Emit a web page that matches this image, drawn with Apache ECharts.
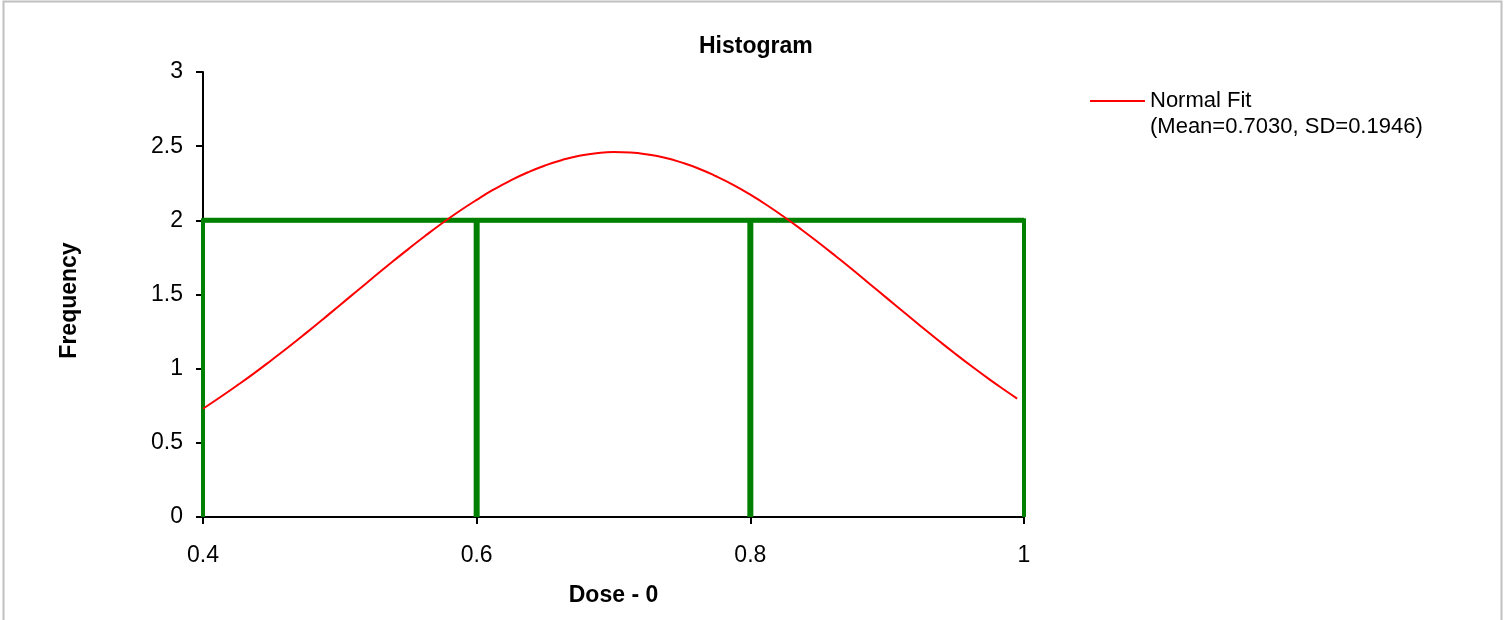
<!DOCTYPE html>
<html>
<head>
<meta charset="utf-8">
<script src="https://cdn.jsdelivr.net/npm/echarts@6/dist/echarts.min.js"></script>
<style>html,body{margin:0;padding:0;background:#fff;}#c{width:1506px;height:620px;}</style>
</head>
<body>
<div id="c"></div>
<script>
// Histogram bins
const binStarts = [0.4, 0.6, 0.8];
const binEnds = [0.6, 0.8, 1.0];
const binCounts = [2, 2, 2];

// Normal fit curve
const curveX = [0.4, 0.4125, 0.425, 0.4375, 0.45, 0.4625, 0.475, 0.4875, 0.5, 0.5125, 0.525, 0.5375, 0.55, 0.5625, 0.575, 0.5875, 0.6, 0.6125, 0.625, 0.6375, 0.65, 0.6625, 0.675, 0.6875, 0.7, 0.7125, 0.725, 0.7375, 0.75, 0.7625, 0.775, 0.7875, 0.8, 0.8125, 0.825, 0.8375, 0.85, 0.8625, 0.875, 0.8875, 0.9, 0.9125, 0.925, 0.9375, 0.95, 0.9625, 0.975, 0.985, 0.995];
const curveY = [0.73, 0.807, 0.887, 0.970, 1.057, 1.146, 1.238, 1.332, 1.428, 1.523, 1.619, 1.714, 1.806, 1.896, 1.982, 2.063, 2.138, 2.208, 2.270, 2.324, 2.370, 2.407, 2.435, 2.452, 2.460, 2.457, 2.444, 2.422, 2.389, 2.348, 2.297, 2.239, 2.173, 2.100, 2.021, 1.937, 1.849, 1.758, 1.665, 1.569, 1.474, 1.378, 1.283, 1.190, 1.099, 1.011, 0.926, 0.861, 0.798];

const xTicks = ['0.4', '0.6', '0.8', '1'];
const legendLine1 = 'Normal Fit';
const legendLine2 = '(Mean=0.7030, SD=0.1946)';

const FONT = 'Liberation Sans, Arial, sans-serif';
const GREEN = '#008000';

const barData = binStarts.map((s, i) => [s, binEnds[i], binCounts[i]]);
const curveData = curveX.map((x, i) => [x, curveY[i]]);

const chart = echarts.init(document.getElementById('c'), null, {renderer: 'canvas'});
chart.setOption({
  backgroundColor: '#fff',
  animation: false,
  title: {
    text: 'Histogram',
    left: 699,
    top: 35,
    padding: 0,
    textStyle: {fontFamily: FONT, fontSize: 23, fontWeight: 'bold', color: '#000'}
  },
  legend: {
    left: 1090,
    top: 90,
    padding: 0,
    icon: 'rect',
    itemWidth: 55,
    itemHeight: 2,
    itemGap: 5,
    data: [legendLine1],
    textStyle: {fontFamily: FONT, fontSize: 22, color: '#000'}
  },
  graphic: [
    {
      type: 'rect',
      silent: true,
      shape: {x: 3.5, y: 1.5, width: 1498, height: 700},
      style: {fill: 'none', stroke: '#c0c0c0', lineWidth: 2}
    },
    {
      type: 'text',
      left: 1150,
      top: 116,
      style: {text: legendLine2, fontFamily: FONT, fontSize: 22, fill: '#000'}
    }
  ],
  grid: {left: 203, right: 482, top: 72, bottom: 103, containLabel: false},
  xAxis: {
    type: 'value',
    min: 0.4,
    max: 1,
    interval: 0.2,
    name: 'Dose - 0',
    nameLocation: 'middle',
    nameGap: 67,
    nameTextStyle: {fontFamily: FONT, fontSize: 23, fontWeight: 'bold', color: '#000'},
    axisLine: {show: true, onZero: false, lineStyle: {color: '#000', width: 2}},
    axisTick: {show: true, length: 7, lineStyle: {color: '#000', width: 2}},
    axisLabel: {
      fontFamily: FONT, fontSize: 23, color: '#000', margin: 27,
      formatter: function (v) {
        const idx = Math.round((v - 0.4) / 0.2);
        return xTicks[idx] !== undefined ? xTicks[idx] : '';
      }
    },
    splitLine: {show: false}
  },
  yAxis: {
    type: 'value',
    min: 0,
    max: 3,
    interval: 0.5,
    name: 'Frequency',
    nameLocation: 'middle',
    nameGap: 122,
    nameRotate: 90,
    nameTextStyle: {fontFamily: FONT, fontSize: 23, fontWeight: 'bold', color: '#000', padding: [0, 12, 0, 0]},
    axisLine: {show: true, lineStyle: {color: '#000', width: 2}},
    axisTick: {show: true, length: 7, lineStyle: {color: '#000', width: 2}},
    axisLabel: {fontFamily: FONT, fontSize: 23, color: '#000', margin: 20},
    splitLine: {show: false}
  },
  series: [
    {
      type: 'custom',
      name: 'Histogram',
      data: barData,
      encode: {x: [0, 1], y: 2},
      z: 3,
      renderItem: function (params, api) {
        const x0 = api.value(0), x1 = api.value(1), h = api.value(2);
        const pTop0 = api.coord([x0, h]);
        const pBot1 = api.coord([x1, 0]);
        const children = [
          {
            type: 'polyline',
            shape: {points: [[pTop0[0], pBot1[1]], [pTop0[0], pTop0[1]], [pBot1[0], pTop0[1]], [pBot1[0], pBot1[1]]]},
            style: {fill: 'none', stroke: GREEN, lineWidth: 4}
          },
          {
            type: 'line',
            shape: {x1: pTop0[0], y1: pTop0[1], x2: pBot1[0], y2: pTop0[1]},
            style: {stroke: GREEN, lineWidth: 5}
          }
        ];
        if (params.dataIndex > 0) {
          children.push({
            type: 'line',
            shape: {x1: pTop0[0], y1: pTop0[1], x2: pTop0[0], y2: pBot1[1]},
            style: {stroke: GREEN, lineWidth: 6}
          });
        }
        return {type: 'group', children: children};
      }
    },
    {
      type: 'line',
      name: legendLine1,
      data: curveData,
      smooth: true,
      showSymbol: false,
      symbol: 'none',
      z: 4,
      itemStyle: {color: '#ff0000'},
      lineStyle: {color: '#ff0000', width: 2}
    }
  ]
});
</script>
</body>
</html>
